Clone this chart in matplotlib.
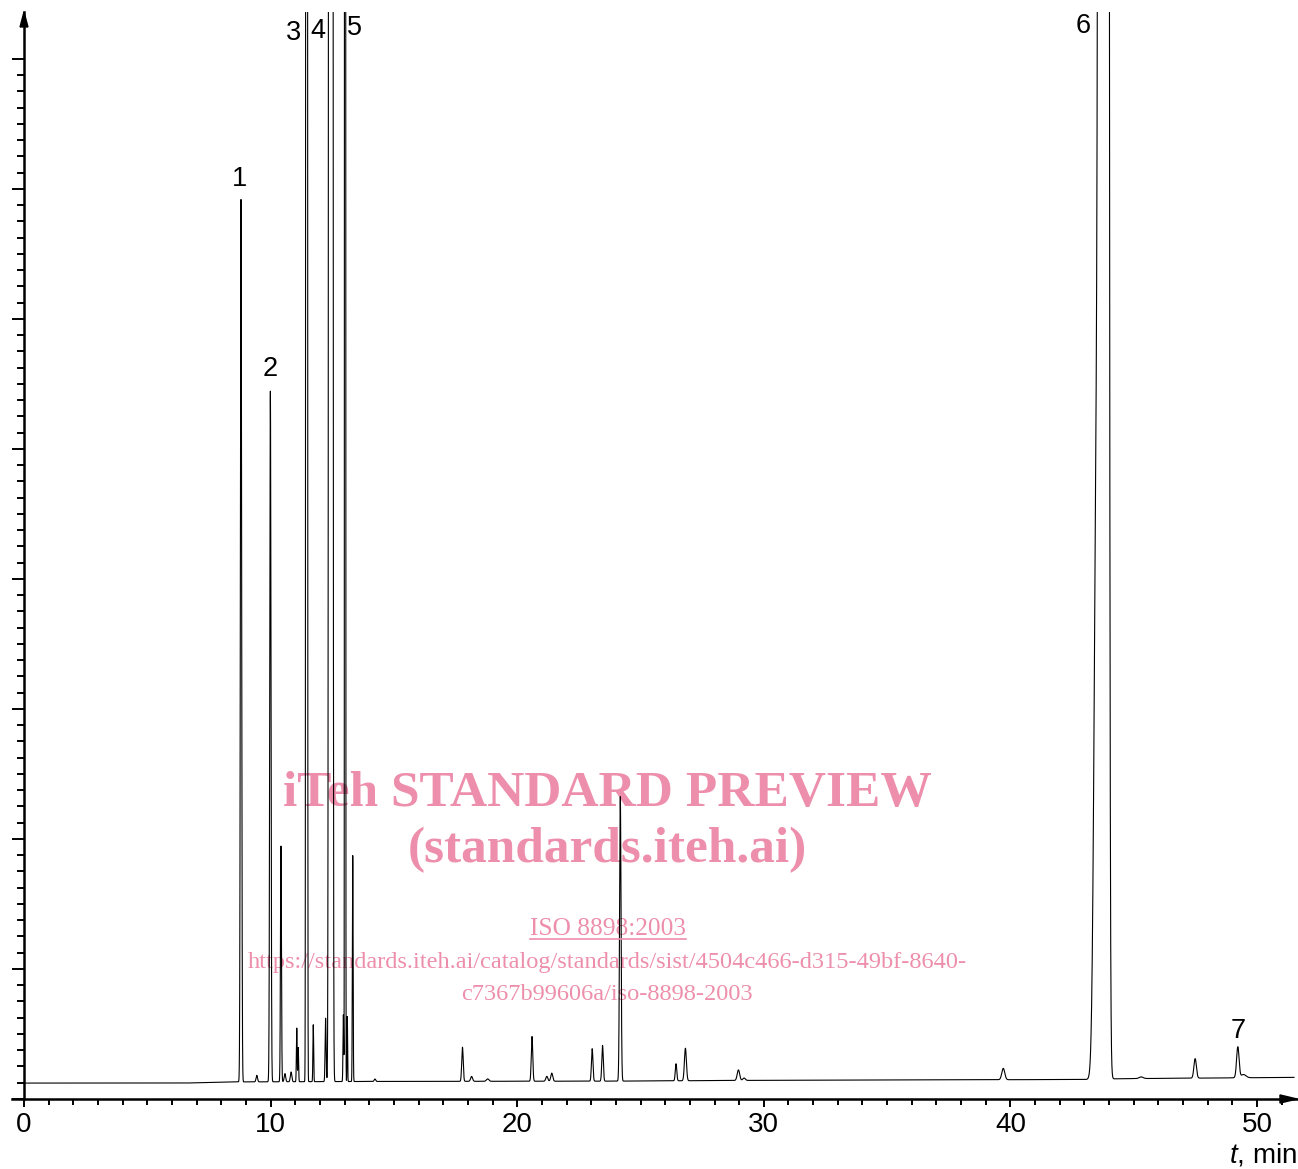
import numpy as np
import matplotlib
matplotlib.use("Agg")
import matplotlib.pyplot as plt
from matplotlib.ticker import MultipleLocator, FixedLocator
from matplotlib.patches import Polygon
from matplotlib.lines import Line2D

plt.rcParams['font.family'] = ['Liberation Sans', 'DejaVu Sans']
plt.rcParams['mathtext.fontset'] = 'custom'
plt.rcParams['mathtext.it'] = 'Liberation Sans:italic'
plt.rcParams['mathtext.rm'] = 'Liberation Sans'

# baseline of the trace (t in min, signal in y-tick units)
base_t = [0.0, 6.5, 8.5, 14.0, 24.0, 30.0, 43.0, 44.5, 51.5]
base_y = [0.98, 0.98, 1.05, 1.08, 1.10, 1.15, 1.20, 1.25, 1.33]

# peaks: retention time, height above baseline, width
peak_t = [8.80, 9.44, 9.99, 10.42, 10.58, 10.83, 11.06, 11.12, 11.46, 11.73,
          12.23, 12.44, 12.95, 13.02, 13.11, 13.33, 14.23, 17.78, 18.15, 18.80,
          20.60, 21.20, 21.40, 23.04, 23.46, 24.18, 26.44, 26.82, 28.97, 29.20,
          39.71, 43.50, 43.78, 45.30, 47.49, 49.22, 49.45]
peak_h = [54.3, 0.4, 42.5, 14.5, 0.5, 0.6, 3.3, 2.1, 900, 3.5,
          3.9, 3000, 4.1, 800, 4.0, 13.9, 0.15, 2.1, 0.3, 0.15,
          2.75, 0.3, 0.5, 2.0, 2.2, 17.5, 1.05, 2.0, 0.65, 0.15,
          0.7, 40, 5000, 0.1, 1.2, 1.9, 0.2]
peak_w = [0.025, 0.03, 0.025, 0.02, 0.03, 0.03, 0.015, 0.015, 0.018, 0.015,
          0.02, 0.035, 0.015, 0.012, 0.012, 0.015, 0.03, 0.03, 0.04, 0.05,
          0.03, 0.04, 0.04, 0.03, 0.03, 0.03, 0.03, 0.04, 0.05, 0.05,
          0.06, 0.10, 0.08, 0.08, 0.05, 0.05, 0.10]

# numbered peaks
label_txt = ['1', '2', '3', '4', '5', '6', '7']
label_t = [8.72, 9.98, 10.91, 11.92, 13.42, 42.95, 49.23]
label_y = [56.6, 44.9, 65.6, 65.7, 65.9, 66.0, 4.2]

t = np.arange(0.0, 51.5, 0.002)
sig = np.interp(t, base_t, base_y)
for tr, h, w in zip(peak_t, peak_h, peak_w):
    sig = sig + h * np.exp(-0.5 * ((t - tr) / w) ** 2)

W, H = 1298, 1169
fig = plt.figure(figsize=(W / 100, H / 100), dpi=100)
ax = fig.add_axes([12 / W, (H - 1099) / H, (1297 - 12) / W, (1099 - 12) / H])

ax.plot(t, sig, color='black', lw=0.8, zorder=2)

ax.set_xlim(-0.4866, 51.62)
ax.set_ylim(0, 66.89)

for s in ['top', 'right']:
    ax.spines[s].set_visible(False)
ax.spines['left'].set_position(('data', 0))
ax.spines['left'].set_linewidth(1.8)
ax.spines['bottom'].set_linewidth(1.8)

ax.xaxis.set_major_locator(MultipleLocator(10))
ax.xaxis.set_minor_locator(MultipleLocator(1))
ax.yaxis.set_major_locator(FixedLocator(range(0, 65, 8)))
ax.yaxis.set_minor_locator(FixedLocator(range(0, 65)))
ax.tick_params(axis='x', which='major', direction='out', length=6, width=1.4,
               labelsize=20, pad=3)
ax.tick_params(axis='x', which='minor', direction='out', length=4.5, width=1.4)
ax.tick_params(axis='y', which='major', direction='out', length=8.6, width=1.4,
               labelleft=False)
ax.tick_params(axis='y', which='minor', direction='out', length=5, width=1.4)

# arrow heads on the axes
ax.add_patch(Polygon([(-0.16, 65.97), (0.16, 65.97), (0, 66.89)], closed=True,
                     color='black', clip_on=False, zorder=5))
ax.add_patch(Polygon([(50.93, -0.25), (50.93, 0.25), (51.62, 0)], closed=True,
                     color='black', clip_on=False, zorder=5))

for txt, x, y in zip(label_txt, label_t, label_y):
    ax.text(x, y, txt, ha='center', va='center', fontsize=19.5)

fig.text(1297 / W, (H - 1163) / H, '$t$, min', ha='right', va='baseline', fontsize=20)

# watermark
wm = '#ED8FAC'
cx = 607 / W
ax.text(cx, 1 - 806 / H, 'iTeh STANDARD PREVIEW', transform=fig.transFigure,
        ha='center', va='baseline', family='Liberation Serif', weight='bold',
        fontsize=37, color=wm, zorder=1)
ax.text(cx, 1 - 862 / H, '(standards.iteh.ai)', transform=fig.transFigure,
        ha='center', va='baseline', family='Liberation Serif', weight='bold',
        fontsize=37, color=wm, zorder=1)
ax.text(608 / W, 1 - 935 / H, 'ISO 8898:2003', transform=fig.transFigure,
        ha='center', va='baseline', family='Liberation Serif',
        fontsize=18.3, color=wm, zorder=1)
fig.add_artist(Line2D([530 / W, 686 / W], [1 - 939 / H, 1 - 939 / H],
                      transform=fig.transFigure, color=wm, lw=1.2))
ax.text(cx, 1 - 968 / H,
        'https://standards.iteh.ai/catalog/standards/sist/4504c466-d315-49bf-8640-',
        transform=fig.transFigure, ha='center', va='baseline',
        family='Liberation Serif', fontsize=17.6, color=wm, zorder=1)
ax.text(cx, 1 - 1000 / H, 'c7367b99606a/iso-8898-2003',
        transform=fig.transFigure, ha='center', va='baseline',
        family='Liberation Serif', fontsize=17.6, color=wm, zorder=1)

fig.savefig('out.png', dpi=100)
